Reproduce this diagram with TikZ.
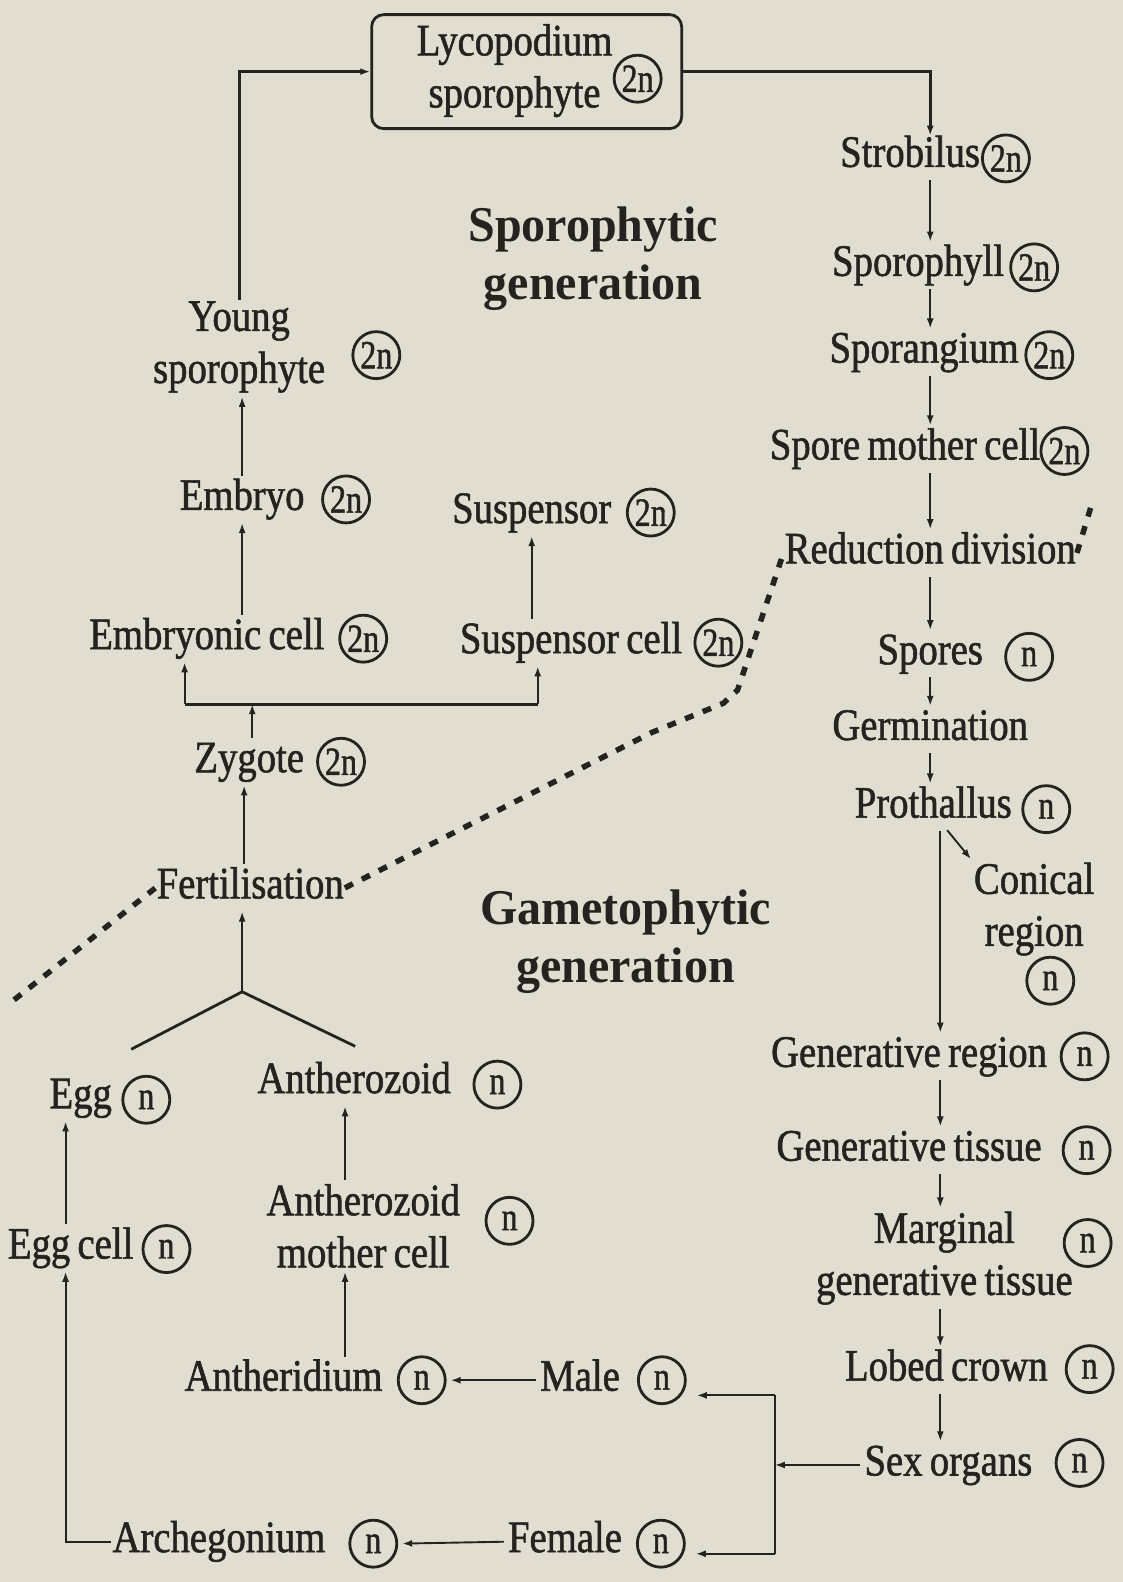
\documentclass[tikz,border=0pt]{standalone}
\usepackage{fontspec}
\setmainfont{Liberation Serif}[FakeStretch=0.86,FakeBold=1.2,WordSpace=0.75]
\newfontfamily\titlefont{Liberation Serif}[FakeStretch=0.96]
\newfontfamily\circfont{Liberation Serif}[FakeStretch=0.8,FakeBold=1.2]
\usetikzlibrary{arrows.meta}
\definecolor{paper}{RGB}{225,221,208}
\definecolor{ink}{RGB}{38,34,32}
\begin{document}
\begin{tikzpicture}[x=1.009pt,y=-1.009pt,
 lbl/.style={font=\fontsize{45}{50}\selectfont, text=ink, inner sep=1pt, text height=30pt, text depth=9pt},
 lbltwo/.style={font=\fontsize{45}{52}\selectfont, text=ink, inner sep=1pt, align=center},
 circ/.style={circle, draw=ink, line width=2.8pt, minimum size=47pt, inner sep=0pt, font=\circfont\fontsize{40}{40}\selectfont, text=ink},
 ttl/.style={font=\titlefont\bfseries\fontsize{50}{58}\selectfont, text=ink, align=center},
 arr/.style={draw=ink, line width=1.9pt, -{Latex[length=10pt,width=7pt]}, shorten <=3pt, shorten >=3pt},
 ln/.style={draw=ink, line width=2.8pt},
 dotl/.style={draw=ink, line width=5.5pt, dash pattern=on 9pt off 10pt},
 box/.style={draw=ink, line width=2.8pt, rounded corners=12pt, minimum width=310pt, minimum height=114pt}
]
\fill[paper] (0,0) rectangle (1113,1568);
\useasboundingbox (0,0) rectangle (1113,1568);

% top box
\node[box] (lyco) at (522,71) {};
\node[lbltwo] (lycot) at (510,70) {Lycopodium\\sporophyte};
\node[circ] (lycoc) at (632,78) {2n};

% right column
\node[lbl] (strob) at (902,155) {Strobilus};
\node[circ] (strobc) at (997,157) {2n};
\node[lbl] (sphyl) at (910,263) {Sporophyll};
\node[circ] (sphylc) at (1025,265) {2n};
\node[lbl] (sang) at (916,349) {Sporangium};
\node[circ] (sangc) at (1040,352) {2n};
\node[lbl] (smc) at (897,445) {Spore mother cell};
\node[circ] (smcc) at (1055,447) {2n};
\node[lbl] (red) at (922,548) {Reduction division};
\node[lbl] (spores) at (922,648) {Spores};
\node[circ] (sporesc) at (1020,651) {n};
\node[lbl] (germ) at (922,723) {Germination};
\node[lbl] (proth) at (925,800) {Prothallus};
\node[circ] (prothc) at (1037,802) {n};
\node[lbltwo] (con) at (1025,901) {Conical\\region};
\node[circ] (conc) at (1041,972) {n};
\node[lbl] (genr) at (901,1047) {Generative region};
\node[circ] (genrc) at (1075,1047) {n};
\node[lbl] (gent) at (901,1140) {Generative tissue};
\node[circ] (gentc) at (1077,1140) {n};
\node[lbltwo] (marg) at (936,1247) {Marginal\\generative tissue};
\node[circ] (margc) at (1078,1232) {n};
\node[lbl] (lobed) at (938,1358) {Lobed crown};
\node[circ] (lobedc) at (1080,1357) {n};
\node[lbl] (sex) at (940,1452) {Sex organs};
\node[circ] (sexc) at (1070,1450) {n};

% left part
\node[lbltwo] (ysp) at (237,344) {Young\\sporophyte};
\node[circ] (yspc) at (373,352) {2n};
\node[lbl] (embryo) at (240,495) {Embryo};
\node[circ] (embryoc) at (343,495) {2n};
\node[lbl] (susp) at (527,508) {Suspensor};
\node[circ] (suspc) at (645,508) {2n};
\node[lbl] (emc) at (205,633) {Embryonic cell};
\node[circ] (emcc) at (360,633) {2n};
\node[lbl] (susc) at (566,637) {Suspensor cell};
\node[circ] (suscc) at (712,637) {2n};
\node[lbl] (zyg) at (247,755) {Zygote};
\node[circ] (zygc) at (338,755) {2n};
\node[lbl] (fert) at (248,880) {Fertilisation};
\node[lbl] (egg) at (80,1088) {Egg};
\node[circ] (eggcirc) at (145,1090) {n};
\node[lbl] (anth) at (351,1073) {Antherozoid};
\node[circ] (anthc) at (493,1075) {n};
\node[lbl] (eggc) at (70,1237) {Egg cell};
\node[circ] (eggcc) at (165,1238) {n};
\node[lbltwo] (amc) at (360,1215) {Antherozoid\\mother cell};
\node[circ] (amcc) at (505,1210) {n};
\node[lbl] (antd) at (281,1368) {Antheridium};
\node[circ] (antdc) at (418,1368) {n};
\node[lbl] (male) at (575,1368) {Male};
\node[circ] (malec) at (656,1368) {n};
\node[lbl] (arch) at (217,1528) {Archegonium};
\node[circ] (archc) at (370,1530) {n};
\node[lbl] (fem) at (560,1528) {Female};
\node[circ] (femc) at (655,1530) {n};

% titles
\node[ttl] (tsp) at (588,256) {Sporophytic\\generation};
\node[ttl] (tgm) at (620,933) {Gametophytic\\generation};

% helper coordinates
\coordinate (cR) at (922,0);
\coordinate (cRb) at (932,0);
\coordinate (zx) at (250,0);
\coordinate (fx) at (242,0);
\coordinate (ax) at (342,0);
\coordinate (ex) at (65,0);
\coordinate (brL) at (183,698);
\coordinate (brR) at (533,698);
\coordinate (yj) at (240,983);
\coordinate (yl) at (130,1040);
\coordinate (yr) at (352,1037);
\coordinate (bt) at (768,1383);
\coordinate (bb) at (768,1540);
\coordinate (dA) at (14,991);
\coordinate (dB) at (1082,500);

% sporophytic connectors
\draw[ln, -{Latex[length=10pt,width=7pt]}] (ysp.north) |- (lyco.west);
\draw[ln, -{Latex[length=10pt,width=7pt]}] (lyco.east) -| (strob.north -| cR);
\draw[arr] (strob.south -| cR) -- (sphyl.north -| cR);
\draw[arr] (sphyl.south -| cR) -- (sang.north -| cR);
\draw[arr] (sang.south -| cR) -- (smc.north -| cR);
\draw[arr] (smc.south -| cR) -- (red.north -| cR);
\draw[arr] (red.south -| cR) -- (spores.north -| cR);
\draw[arr] (spores.south -| cR) -- (germ.north -| cR);
\draw[arr] (germ.south -| cR) -- (proth.north -| cR);
\draw[arr] ([xshift=12pt]proth.south) -- (con.north west);
\draw[arr] (proth.south -| cRb) -- (genr.north -| cRb);
\draw[arr] (genr.south -| cRb) -- (gent.north -| cRb);
\draw[arr] (gent.south -| cRb) -- (marg.north -| cRb);
\draw[arr] (marg.south -| cRb) -- (lobed.north -| cRb);
\draw[arr] (lobed.south -| cRb) -- (sex.north -| cRb);

% sex organs split
\draw[arr, shorten >=0pt] (sex.west) -- (sex.west -| bt);
\draw[ln, line width=2.2pt] (bt) -- (bb);
\draw[arr, line width=2.2pt, shorten <=0pt, shorten >=10pt] (bt) -- (bt -| malec.east);
\draw[arr, line width=2.2pt, shorten <=0pt, shorten >=10pt] (bb) -- (bb -| femc.east);
\draw[arr, shorten >=4pt] (male.west) -- (antdc.east);
\draw[arr, shorten >=4pt] (fem.west) -- (archc.east);

% male line
\draw[arr] (antd.north -| ax) -- (amc.south -| ax);
\draw[arr] (amc.north -| ax) -- (anth.south -| ax);

% female line
\draw[ln, line width=1.9pt, -{Latex[length=10pt,width=7pt]}, shorten >=3pt] (arch.west) -| (eggc.south -| ex);
\draw[arr] (eggc.north -| ex) -- (egg.south -| ex);

% fusion
\draw[ln] (yl) -- (yj) -- (yr);
\draw[arr, shorten <=0pt] (yj) -- (yj |- fert.south);
\draw[arr] (fert.north -| fx) -- (zyg.south -| fx);
\draw[arr, shorten >=0pt] (zyg.north -| zx) -- (zx |- brL);
\draw[ln] (brL) -- (brR);
\draw[arr, shorten <=0pt] (brL) -- (brL |- emc.south);
\draw[arr, shorten <=0pt] (brR) -- (brR |- susc.south);
\draw[arr] (embryo.south |- emc.north) -- (embryo.south);
\draw[arr] (susp.south |- susc.north) -- (susp.south);
\draw[arr] (embryo.north) -- (embryo.north |- ysp.south);

% dividing dotted line
\draw[dotl] (dA) -- (fert.west);
\draw[dotl] (fert.east) -- (646,726) -- (717,697) -- (731,684) -- (red.west);
\draw[dotl] (red.east) -- (dB);
\end{tikzpicture}
\end{document}
